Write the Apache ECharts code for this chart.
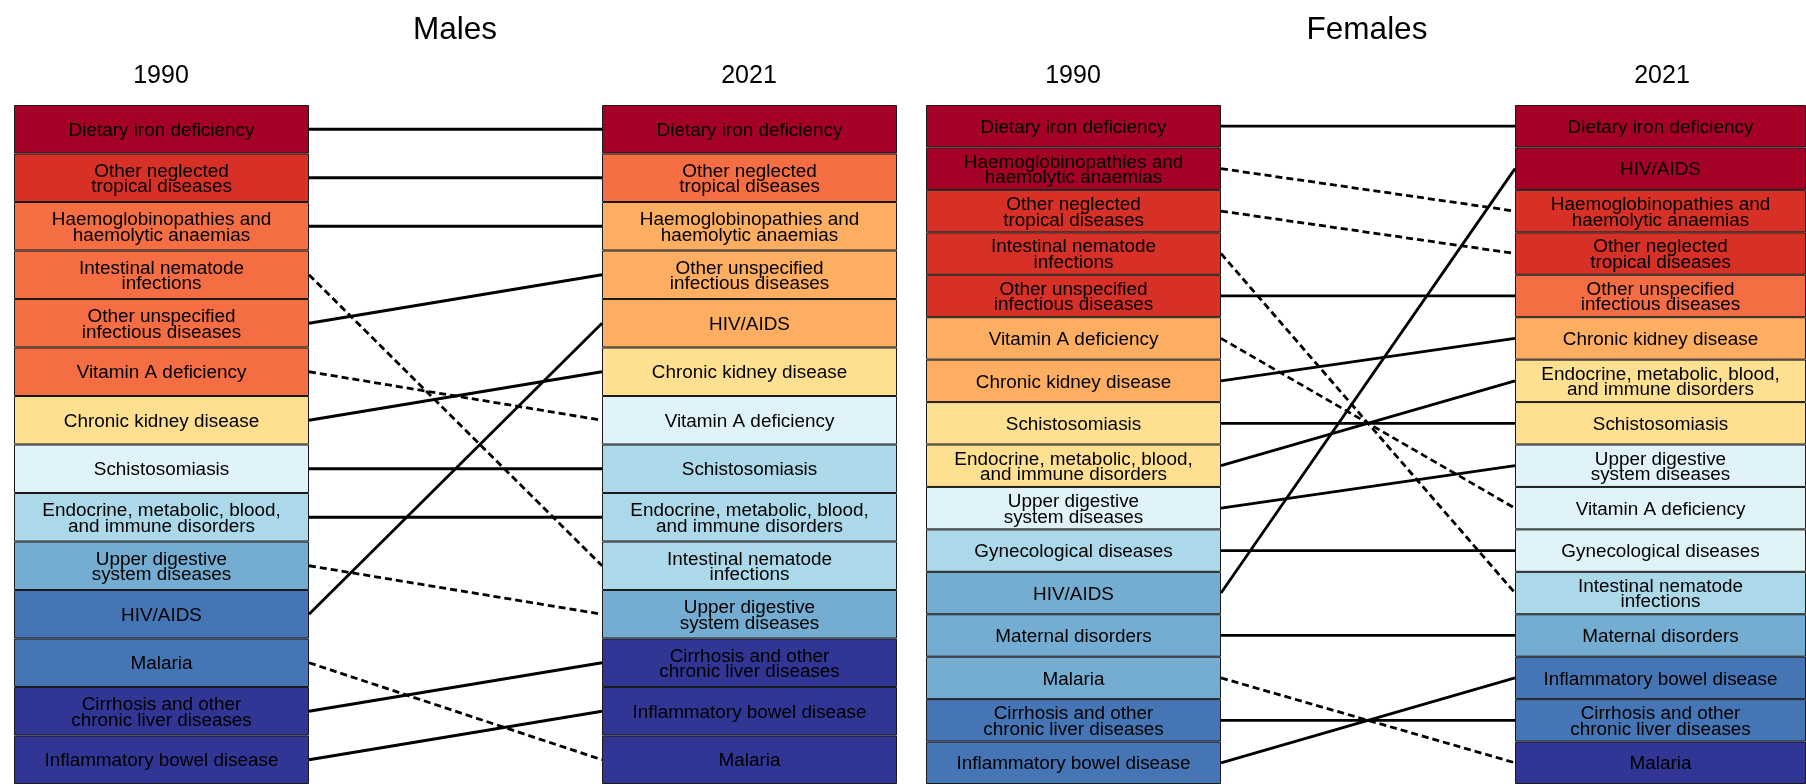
<!DOCTYPE html>
<html>
<head>
<meta charset="utf-8">
<script src="https://cdn.jsdelivr.net/npm/echarts@6/dist/echarts.min.js"></script>
<style>
  html, body { margin: 0; padding: 0; background: #fff; }
  #chart { width: 1806px; height: 784px; }
</style>
</head>
<body>
<div id="chart"></div>
<script>
// rank order (top = rank 1)
var male1990 = ['Dietary iron deficiency', 'Other neglected\ntropical diseases', 'Haemoglobinopathies and\nhaemolytic anaemias',
  'Intestinal nematode\ninfections', 'Other unspecified\ninfectious diseases', 'Vitamin A deficiency', 'Chronic kidney disease',
  'Schistosomiasis', 'Endocrine, metabolic, blood,\nand immune disorders', 'Upper digestive\nsystem diseases', 'HIV/AIDS',
  'Malaria', 'Cirrhosis and other\nchronic liver diseases', 'Inflammatory bowel disease'];
var male2021 = ['Dietary iron deficiency', 'Other neglected\ntropical diseases', 'Haemoglobinopathies and\nhaemolytic anaemias',
  'Other unspecified\ninfectious diseases', 'HIV/AIDS', 'Chronic kidney disease', 'Vitamin A deficiency', 'Schistosomiasis',
  'Endocrine, metabolic, blood,\nand immune disorders', 'Intestinal nematode\ninfections', 'Upper digestive\nsystem diseases',
  'Cirrhosis and other\nchronic liver diseases', 'Inflammatory bowel disease', 'Malaria'];
var female1990 = ['Dietary iron deficiency', 'Haemoglobinopathies and\nhaemolytic anaemias', 'Other neglected\ntropical diseases',
  'Intestinal nematode\ninfections', 'Other unspecified\ninfectious diseases', 'Vitamin A deficiency', 'Chronic kidney disease',
  'Schistosomiasis', 'Endocrine, metabolic, blood,\nand immune disorders', 'Upper digestive\nsystem diseases',
  'Gynecological diseases', 'HIV/AIDS', 'Maternal disorders', 'Malaria', 'Cirrhosis and other\nchronic liver diseases',
  'Inflammatory bowel disease'];
var female2021 = ['Dietary iron deficiency', 'HIV/AIDS', 'Haemoglobinopathies and\nhaemolytic anaemias',
  'Other neglected\ntropical diseases', 'Other unspecified\ninfectious diseases', 'Chronic kidney disease',
  'Endocrine, metabolic, blood,\nand immune disorders', 'Schistosomiasis', 'Upper digestive\nsystem diseases',
  'Vitamin A deficiency', 'Gynecological diseases', 'Intestinal nematode\ninfections', 'Maternal disorders',
  'Inflammatory bowel disease', 'Cirrhosis and other\nchronic liver diseases', 'Malaria'];

// colour bin of each box (0 = highest rate)
var maleBin1990 = [0, 1, 2, 2, 2, 2, 4, 5, 6, 7, 8, 8, 9, 9];
var maleBin2021 = [0, 2, 3, 3, 3, 4, 5, 6, 6, 6, 7, 9, 9, 9];
var femaleBin1990 = [0, 0, 1, 1, 1, 3, 3, 4, 4, 5, 6, 7, 7, 7, 8, 8];
var femaleBin2021 = [0, 0, 1, 1, 2, 3, 4, 4, 5, 5, 5, 6, 7, 8, 8, 9];

var palette = ['#a50026', '#d73027', '#f46d43', '#fdae61', '#fee090', '#e0f3f8', '#abd9e9', '#74add1', '#4575b4', '#313695'];

var FONT = 'Liberation Sans, Arial, Helvetica, sans-serif';
var chart = echarts.init(document.getElementById('chart'));

var grids = [], xAxes = [], yAxes = [], series = [];
var TOP = 105, H = 682, BOXW = 295;

function boxSeries(names, bins, left) {
  var gi = grids.length;
  grids.push({ left: left, top: TOP, width: BOXW, height: H });
  xAxes.push({ gridIndex: gi, type: 'value', min: 0, max: 1, show: false });
  yAxes.push({ gridIndex: gi, type: 'category', data: names, inverse: true, show: false });
  series.push({
    type: 'bar', xAxisIndex: gi, yAxisIndex: gi, barWidth: '100%', silent: true,
    data: names.map(function (n, i) {
      return { value: 1, itemStyle: { color: palette[bins[i]] } };
    }),
    itemStyle: { borderColor: '#1a1a1a', borderWidth: 1 },
    label: {
      show: true, position: 'inside', formatter: '{b}', color: '#000', offset: [0, 1.5],
      fontFamily: FONT, fontSize: 18.9, lineHeight: 15.5
    }
  });
}

function linkSeries(from, to, left, width) {
  var gi = grids.length;
  grids.push({ left: left, top: TOP, width: width, height: H });
  xAxes.push({ gridIndex: gi, type: 'value', min: 0, max: 1, show: false });
  yAxes.push({ gridIndex: gi, type: 'value', min: 0, max: from.length, inverse: true, show: false });
  from.forEach(function (n, i) {
    var j = to.indexOf(n);
    series.push({
      type: 'line', xAxisIndex: gi, yAxisIndex: gi, silent: true, symbol: 'none',
      data: [[0, i + 0.5], [1, j + 0.5]],
      lineStyle: { color: '#000', width: 2.8, type: j > i ? [7, 4] : 'solid' }
    });
  });
}

boxSeries(male1990, maleBin1990, 14);
linkSeries(male1990, male2021, 309, 293);
boxSeries(male2021, maleBin2021, 602);
boxSeries(female1990, femaleBin1990, 926);
linkSeries(female1990, female2021, 1221, 294);
boxSeries(female2021, femaleBin2021, 1515);

function txt(s, x, y, size) {
  return { type: 'text', x: x, y: y, silent: true,
    style: { text: s, fill: '#000', font: size + 'px ' + FONT, align: 'center', verticalAlign: 'middle' } };
}

chart.setOption({
  animation: false,
  grid: grids,
  xAxis: xAxes,
  yAxis: yAxes,
  series: series,
  graphic: [
    txt('Males', 455, 30, 31.5),
    txt('Females', 1367, 30, 31.5),
    txt('1990', 161, 76, 25),
    txt('2021', 749, 76, 25),
    txt('1990', 1073, 76, 25),
    txt('2021', 1662, 76, 25)
  ]
});
</script>
</body>
</html>
